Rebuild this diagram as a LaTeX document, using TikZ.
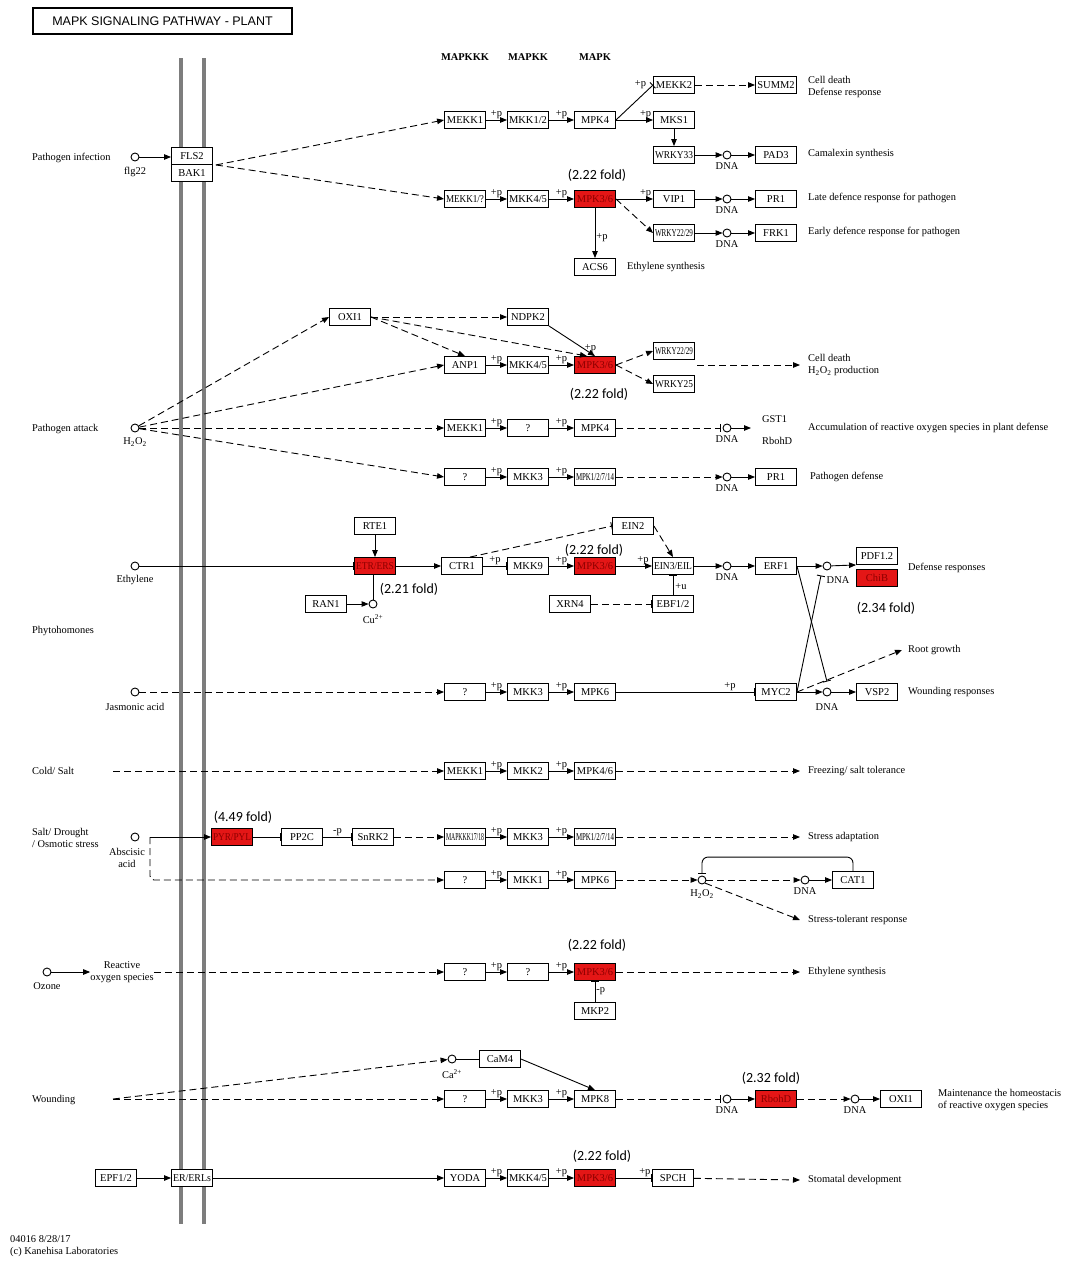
\documentclass[tikz,border=0pt]{standalone}
\usepackage{fontspec}
\usepackage{graphicx}
\setmainfont{Liberation Serif}
\newfontfamily\foldfont{Carlito}
\newfontfamily\titlefont{Liberation Sans}
\usetikzlibrary{shapes,arrows.meta}
\definecolor{kred}{RGB}{228,22,22}
\definecolor{kdark}{RGB}{140,0,0}
\definecolor{membrane}{RGB}{125,125,125}
\newcommand{\kfont}{\fontsize{10.5}{11}\selectfont}
\newcommand{\dfont}{\fontsize{10.4}{12}\selectfont}
\newcommand{\kfit}[1]{\sbox0{#1}\ifdim\wd0>38pt\resizebox{38pt}{\height}{\usebox0}\else\usebox0\fi}
\tikzstyle{gene} = [rectangle, draw, fill=white, line width=0.9pt,
    minimum width=41pt, minimum height=17pt, inner sep=0pt, font=\kfont]
\tikzstyle{hit} = [gene, fill=kred, text=kdark]
\tikzstyle{cpd} = [circle, draw, fill=white, line width=0.9pt, minimum size=8pt, inner sep=0pt]
\tikzstyle{txt} = [font=\dfont, inner sep=0pt, align=left]
\tikzstyle{dna} = [cpd, label={[txt, label distance=3pt]below:DNA}]
\tikzstyle{fold} = [font=\foldfont\fontsize{14}{15}\selectfont, inner sep=0pt]
\tikzstyle{plbl} = [font=\kfont, above, inner sep=1pt]
\tikzstyle{line} = [draw, line width=0.9pt, -{Triangle[length=7pt,width=5.5pt]}]
\tikzstyle{dline} = [line, dash pattern=on 7pt off 4pt]
\tikzstyle{bar} = [draw, line width=0.9pt, -{Bar[width=8pt]}]
\tikzstyle{dbar} = [bar, dash pattern=on 7pt off 4pt]
\tikzstyle{plain} = [draw, line width=0.9pt]

\begin{document}
\begin{tikzpicture}[x=1pt, y=-1pt, node distance=63pt]
\useasboundingbox (0,0) rectangle (1084,1264);

% membrane
\draw[membrane, line width=3.2pt] (181,58) -- (181,1224);
\draw[membrane, line width=3.2pt] (204,58) -- (204,1224);

\node[draw, line width=1.3pt, minimum width=259pt, minimum height=26pt,
    font=\titlefont\fontsize{12.5}{13}\selectfont] (title) at (162.5,21) {MAPK SIGNALING PATHWAY - PLANT};
\node[txt, font=\dfont\bfseries] (hkkk) at (465,57) {MAPKKK};
\node[txt, font=\dfont\bfseries] (hkk) at (528,57) {MAPKK};
\node[txt, font=\dfont\bfseries] (hk) at (595,57) {MAPK};

% pathogen infection
\node[txt, anchor=west] at (32,158) {Pathogen infection};
\node[cpd] (flg22) at (135,157) {};
\node[txt] at (135,172) {flg22};
\node[gene] (fls2) at (192,156) {FLS2};
\node[gene] (bak1) at (192,173) {BAK1};
\coordinate (fb) at ([xshift=3pt]fls2.south east);

\node[gene] (mekk1a) at (465,120) {MEKK1};
\node[gene, right of=mekk1a] (mkk12) {MKK1/2};
\node[gene, right of=mkk12, node distance=67pt] (mpk4a) {MPK4};
\node[gene] (mekk2) at (674,85) {MEKK2};
\node[gene] (summ2) at (776,85) {SUMM2};
\node[gene] (mks1) at (674,120) {MKS1};
\node[gene] (wrky33) at (674,155) {\kfit{WRKY33}};
\node[dna] (dna1) at (727,155) {};
\node[gene] (pad3) at (776,155) {PAD3};
\node[txt, anchor=west] at (808,87) {Cell death\\Defense response};
\node[txt, anchor=west] at (808,154) {Camalexin synthesis};

\node[gene] (mekk1q) at (465,199) {\kfit{MEKK1/?}};
\node[gene, right of=mekk1q] (mkk45a) {MKK4/5};
\node[hit, right of=mkk45a, node distance=67pt] (mpk36a) {MPK3/6};
\node[fold] at (597,175) {(2.22 fold)};
\node[gene] (vip1) at (674,199) {VIP1};
\node[dna] (dna2) at (727,199) {};
\node[gene] (pr1a) at (776,199) {PR1};
\node[txt, anchor=west] at (808,198) {Late defence response for pathogen};
\node[gene] (wrky22a) at (674,233) {\kfit{WRKY22/29}};
\node[dna] (dna3) at (727,233) {};
\node[gene] (frk1) at (776,233) {FRK1};
\node[txt, anchor=west] at (808,232) {Early defence response for pathogen};
\node[gene] (acs6) at (595,267) {ACS6};
\node[txt, anchor=west] at (627,267) {Ethylene synthesis};

\path[line] (flg22) -- (flg22 -| fls2.west);
\path[dline] (fb) -- (mekk1a.west);
\path[dline] (fb) -- (mekk1q.west);
\path[line] (mekk1a) -- node[plbl] {+p} (mkk12);
\path[line] (mkk12) -- node[plbl] {+p} (mpk4a);
\path[bar] (mpk4a.east) -- node[plbl, pos=0.85, above left] {+p} (mekk2.west);
\path[line] (mpk4a) -- node[plbl, pos=0.8] {+p} (mks1);
\path[line] (mks1) -- (wrky33);
\path[line] (wrky33) -- (dna1);
\path[line] (dna1) -- (pad3);
\path[dline] (mekk2) -- (summ2);
\path[line] (mekk1q) -- node[plbl] {+p} (mkk45a);
\path[line] (mkk45a) -- node[plbl] {+p} (mpk36a);
\path[line] (mpk36a) -- node[plbl, pos=0.8] {+p} (vip1);
\path[dline] (mpk36a.east) -- (wrky22a.west);
\path[line] (mpk36a) -- node[plbl, right, pos=0.6] {+p} (acs6);
\path[line] (vip1) -- (dna2);
\path[line] (dna2) -- (pr1a);
\path[line] (wrky22a) -- (dna3);
\path[line] (dna3) -- (frk1);

% pathogen attack
\node[gene] (oxi1a) at (350,317) {OXI1};
\node[gene] (ndpk2) at (528,317) {NDPK2};
\node[gene] (anp1) at (465,365) {ANP1};
\node[gene, right of=anp1] (mkk45b) {MKK4/5};
\node[hit, right of=mkk45b, node distance=67pt] (mpk36b) {MPK3/6};
\node[fold] at (599,394) {(2.22 fold)};
\node[gene] (wrky22b) at (674,351) {\kfit{WRKY22/29}};
\node[gene] (wrky25) at (674,384) {\kfit{WRKY25}};
\coordinate (cd1) at (697,365);
\node[txt, anchor=west] (t5) at (808,365) {Cell death\\H\textsubscript{2}O\textsubscript{2} production};

\node[txt, anchor=west] at (32,429) {Pathogen attack};
\node[cpd] (h2o2a) at (135,428) {};
\node[txt] at (135,442) {H\textsubscript{2}O\textsubscript{2}};
\node[gene] (mekk1b) at (465,428) {MEKK1};
\node[gene, right of=mekk1b] (qa) {?};
\node[gene, right of=qa, node distance=67pt] (mpk4b) {MPK4};
\node[dna] (dna4) at (727,428) {};
\coordinate (gr) at (751,428);
\node[txt, anchor=west] (gst1) at (762,419) {GST1};
\node[txt, anchor=west] (rbohda) at (762,441) {RbohD};
\node[txt, anchor=west] at (808,428) {Accumulation of reactive oxygen species in plant defense};
\node[gene] (qb) at (465,477) {?};
\node[gene, right of=qb] (mkk3a) {MKK3};
\node[gene, right of=mkk3a, node distance=67pt] (mpk1a) {\kfit{MPK1/2/7/14}};
\node[dna] (dna5) at (727,477) {};
\node[gene] (pr1b) at (776,477) {PR1};
\node[txt, anchor=west] at (810,477) {Pathogen defense};

\path[dline] (h2o2a) -- (oxi1a.west);
\path[dline] (h2o2a) -- (anp1.west);
\path[dline] (h2o2a) -- (mekk1b.west);
\path[dline] (h2o2a) -- (qb.west);
\path[dline] (oxi1a) -- (ndpk2);
\path[dline] (oxi1a.east) -- (anp1.north);
\path[dline] (oxi1a.east) -- ([xshift=-8pt]mpk36b.north);
\path[line] (ndpk2.south east) -- node[plbl, right, pos=0.75] {+p} (mpk36b.north);
\path[line] (anp1) -- node[plbl] {+p} (mkk45b);
\path[line] (mkk45b) -- node[plbl] {+p} (mpk36b);
\path[dline] (mpk36b.east) -- (wrky22b.west);
\path[dline] (mpk36b.east) -- (wrky25.west);
\path[dline, shorten >=8pt] (cd1) -- (t5.west);
\path[line] (mekk1b) -- node[plbl] {+p} (qa);
\path[line] (qa) -- node[plbl] {+p} (mpk4b);
\path[dbar, shorten >=2pt] (mpk4b) -- (dna4.west);
\path[line] (dna4) -- (gr);
\path[line] (qb) -- node[plbl] {+p} (mkk3a);
\path[line] (mkk3a) -- node[plbl] {+p} (mpk1a);
\path[dline] (mpk1a) -- (dna5);
\path[line] (dna5) -- (pr1b);

% ethylene
\node[cpd] (eth) at (135,566) {};
\node[txt] at (135,580) {Ethylene};
\node[hit] (etr) at (375,566) {\kfit{ETR/ERS}};
\node[gene] (rte1) at (375,526) {RTE1};
\node[gene] (ran1) at (326,604) {RAN1};
\node[cpd] (cu) at (373,604) {};
\node[txt] at (373,619) {Cu\textsuperscript{2+}};
\node[fold] at (409,589) {(2.21 fold)};
\node[gene] (ctr1) at (462,566) {CTR1};
\node[gene] (mkk9) at (528,566) {MKK9};
\node[hit, right of=mkk9, node distance=67pt] (mpk36c) {MPK3/6};
\node[fold] at (594,550) {(2.22 fold)};
\node[gene] (ein2) at (633,526) {EIN2};
\node[gene] (ein3) at (673,566) {\kfit{EIN3/EIL}};
\node[gene] (xrn4) at (570,604) {XRN4};
\node[gene] (ebf) at (673,604) {EBF1/2};
\node[dna] (dna6) at (727,566) {};
\node[gene] (erf1) at (776,566) {ERF1};
\node[cpd] (dna7) at (827,566) {};
\node[txt] at (838,580) {DNA};
\node[gene] (pdf12) at (877,556) {PDF1.2};
\node[hit] (chib) at (877,578) {ChiB};
\node[txt, anchor=west] at (908,568) {Defense responses};
\node[fold] at (886,608) {(2.34 fold)};
\node[txt, anchor=west] at (32,631) {Phytohomones};

\path[bar] (eth) -- (etr.west);
\path[line] (rte1) -- (etr);
\path[plain] (cu.north) -- (cu.north |- etr.south);
\path[line] (ran1) -- (cu);
\path[line] (etr) -- (ctr1);
\path[bar] (ctr1) -- node[plbl] {+p} (mkk9);
\path[line] (mkk9) -- node[plbl] {+p} (mpk36c);
\path[line] (mpk36c) -- node[plbl, pos=0.75] {+p} (ein3);
\path[dbar] ([xshift=8pt]ctr1.north) -- (ein2.west);
\path[dline] (ein2.east) -- (ein3.north);
\path[dbar] (xrn4) -- (ebf);
\path[bar] (ebf) -- node[txt, right=2pt, pos=0.4] {+u} (ein3);
\path[line] (ein3) -- (dna6);
\path[line] (dna6) -- (erf1);
\path[line] (erf1) -- (dna7);
\path[line] (dna7) -- (pdf12.south west);

% jasmonic acid
\node[cpd] (ja) at (135,692) {};
\node[txt] at (135,707) {Jasmonic acid};
\node[gene] (qc) at (465,692) {?};
\node[gene, right of=qc] (mkk3b) {MKK3};
\node[gene, right of=mkk3b, node distance=67pt] (mpk6a) {MPK6};
\node[gene] (myc2) at (776,692) {MYC2};
\node[cpd] (dna8) at (827,692) {};
\node[txt] at (827,707) {DNA};
\node[gene] (vsp2) at (877,692) {VSP2};
\node[txt, anchor=west] at (908,692) {Wounding responses};
\node[txt, anchor=west] (rootg) at (908,650) {Root growth};

\path[dline] (ja) -- (qc);
\path[line] (qc) -- node[plbl] {+p} (mkk3b);
\path[line] (mkk3b) -- node[plbl] {+p} (mpk6a);
\path[bar] (mpk6a) -- node[plbl, pos=0.82] {+p} (myc2);
\path[line] (myc2) -- (dna8);
\path[line] (dna8) -- (vsp2);
\path[bar] (erf1.east) -- ([yshift=6pt]dna8.north);
\path[bar] (myc2.east) -- ([xshift=-6pt,yshift=-5pt]dna7.south);
\path[dline] (myc2.east) -- ([xshift=-6pt]rootg.west);

% cold / salt
\node[txt, anchor=west] at (32,771) {Cold/ Salt};
\coordinate (cold) at (113,771);
\node[gene] (mekk1c) at (465,771) {MEKK1};
\node[gene, right of=mekk1c] (mkk2) {MKK2};
\node[gene, right of=mkk2, node distance=67pt] (mpk46) {MPK4/6};
\node[txt, anchor=west] (t8) at (808,771) {Freezing/ salt tolerance};
\path[dline] (cold) -- (mekk1c);
\path[line] (mekk1c) -- node[plbl] {+p} (mkk2);
\path[line] (mkk2) -- node[plbl] {+p} (mpk46);
\path[dline] (mpk46) -- ([xshift=-8pt]t8.west);

% salt / drought
\node[txt, anchor=west] at (32,838) {Salt/ Drought\\/ Osmotic stress};
\node[cpd] (aba) at (135,837) {};
\coordinate (abaj) at (150,837);
\node[txt, align=center] at (127,858) {Abscisic\\acid};
\node[hit] (pyr) at (232,837) {\kfit{PYR/PYL}};
\node[fold] at (243,817) {(4.49 fold)};
\node[gene] (pp2c) at (302,837) {PP2C};
\node[gene] (snrk2) at (373,837) {SnRK2};
\node[gene] (mapkkk) at (465,837) {\kfit{MAPKKK17/18}};
\node[gene, right of=mapkkk] (mkk3c) {MKK3};
\node[gene, right of=mkk3c, node distance=67pt] (mpk1b) {\kfit{MPK1/2/7/14}};
\node[txt, anchor=west] (t9) at (808,837) {Stress adaptation};
\node[gene] (qd) at (465,880) {?};
\node[gene, right of=qd] (mkk1) {MKK1};
\node[gene, right of=mkk1, node distance=67pt] (mpk6b) {MPK6};
\node[cpd] (h2o2b) at (702,880) {};
\node[txt] at (702,894) {H\textsubscript{2}O\textsubscript{2}};
\node[dna] (dna9) at (805,880) {};
\node[gene] (cat1) at (853,880) {CAT1};
\node[txt, anchor=west] (t10) at (808,920) {Stress-tolerant response};

\path[line] (abaj) -- (pyr);
\path[dline, rounded corners=4pt] (abaj) |- (qd.west);
\path[bar] (pyr) -- (pp2c);
\path[bar] (pp2c) -- node[plbl] {-p} (snrk2);
\path[dline] (snrk2) -- (mapkkk);
\path[line] (mapkkk) -- node[plbl] {+p} (mkk3c);
\path[line] (mkk3c) -- node[plbl] {+p} (mpk1b);
\path[dline] (mpk1b) -- ([xshift=-8pt]t9.west);
\path[line] (qd) -- node[plbl] {+p} (mkk1);
\path[line] (mkk1) -- node[plbl] {+p} (mpk6b);
\path[dline] (mpk6b) -- (h2o2b);
\path[dline] (h2o2b) -- (dna9);
\path[line] (dna9) -- (cat1);
\path[bar, rounded corners=6pt] (cat1.north) -- ([yshift=14pt]cat1.north) -| ([yshift=2pt]h2o2b.north);
\path[dline] (h2o2b.south east) -- ([xshift=-8pt]t10.west);

% ozone
\node[cpd] (ozone) at (47,972) {};
\node[txt] at (47,986) {Ozone};
\node[txt, align=center] (ros) at (122,972) {Reactive\\oxygen species};
\node[gene] (qe) at (465,972) {?};
\node[gene, right of=qe] (qf) {?};
\node[hit, right of=qf, node distance=67pt] (mpk36d) {MPK3/6};
\node[fold] at (597,945) {(2.22 fold)};
\node[gene] (mkp2) at (595,1011) {MKP2};
\node[txt, anchor=west] (t11) at (808,972) {Ethylene synthesis};
\path[line] (ozone) -- (ros);
\path[dline] (ros) -- (qe);
\path[line] (qe) -- node[plbl] {+p} (qf);
\path[line] (qf) -- node[plbl] {+p} (mpk36d);
\path[bar] (mkp2) -- node[txt, right=1pt] {-p} (mpk36d);
\path[dline] (mpk36d) -- ([xshift=-8pt]t11.west);

% wounding
\node[txt, anchor=west] at (32,1100) {Wounding};
\coordinate (wnd) at (113,1099);
\node[cpd] (ca) at (452,1059) {};
\node[txt] at (452,1074) {Ca\textsuperscript{2+}};
\node[gene] (cam4) at (500,1059) {CaM4};
\node[gene] (qg) at (465,1099) {?};
\node[gene, right of=qg] (mkk3d) {MKK3};
\node[gene, right of=mkk3d, node distance=67pt] (mpk8) {MPK8};
\node[dna] (dna10) at (727,1099) {};
\node[hit] (rbohd) at (776,1099) {RbohD};
\node[fold] at (771,1078) {(2.32 fold)};
\node[dna] (dna11) at (855,1099) {};
\node[gene] (oxi1b) at (901,1099) {OXI1};
\node[txt, anchor=west] at (938,1100) {Maintenance the homeostacis\\of reactive oxygen species};
\path[dline] (wnd) -- (ca);
\path[dline] (wnd) -- (qg);
\path[plain] (ca) -- (cam4);
\path[line] (cam4.east) -- (mpk8.north);
\path[line] (qg) -- node[plbl] {+p} (mkk3d);
\path[line] (mkk3d) -- node[plbl] {+p} (mpk8);
\path[dbar, shorten >=2pt] (mpk8) -- (dna10.west);
\path[line] (dna10) -- (rbohd);
\path[dline] (rbohd) -- (dna11);
\path[line] (dna11) -- (oxi1b);

% stomatal development
\node[gene] (epf) at (116,1178) {EPF1/2};
\node[gene] (er) at (192,1178) {\kfit{ER/ERLs}};
\node[gene] (yoda) at (465,1178) {YODA};
\node[gene, right of=yoda] (mkk45c) {MKK4/5};
\node[hit, right of=mkk45c, node distance=67pt] (mpk36e) {MPK3/6};
\node[fold] at (602,1156) {(2.22 fold)};
\node[gene] (spch) at (673,1178) {SPCH};
\node[txt, anchor=west] (t13) at (808,1180) {Stomatal development};
\path[line] (epf) -- (er);
\path[line] (er) -- (yoda);
\path[line] (yoda) -- node[plbl] {+p} (mkk45c);
\path[line] (mkk45c) -- node[plbl] {+p} (mpk36e);
\path[bar] (mpk36e) -- node[plbl, pos=0.8] {+p} (spch);
\path[dline] (spch) -- ([xshift=-8pt]t13.west);

\node[txt, anchor=west] at (10,1246) {04016 8/28/17\\(c) Kanehisa Laboratories};
\end{tikzpicture}
\end{document}
